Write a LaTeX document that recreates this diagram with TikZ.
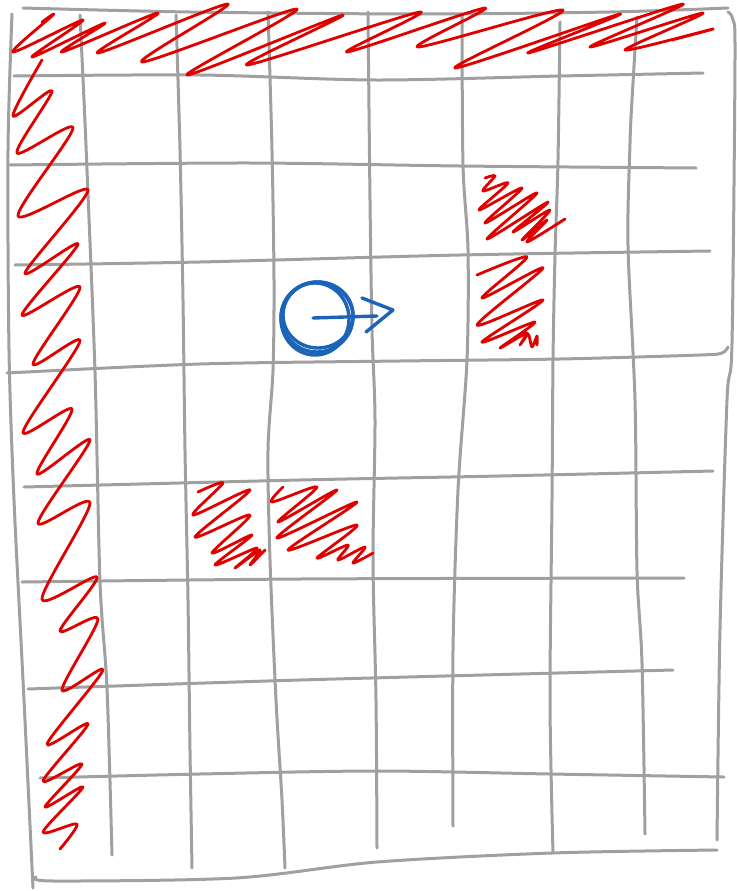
\documentclass[tikz,border=0pt]{standalone}
\definecolor{gridgray}{RGB}{160,160,160}
\definecolor{wallred}{RGB}{224,0,0}
\definecolor{robotblue}{RGB}{28,100,184}
\begin{document}
\begin{tikzpicture}[x=1pt,y=-1pt,
  gridline/.style={draw=gridgray,line width=3pt,line cap=round,line join=round},
  wall/.style={draw=wallred,line width=2.8pt,line cap=round,line join=round},
  robot/.style={draw=robotblue,line width=3.4pt,line cap=round,line join=round}]
\useasboundingbox (0,0) rectangle (736,891);
\draw[gridline] plot[smooth] coordinates {(12,14) (8,150) (9,350) (14,500) (24,700) (33,888)};
\draw[gridline] plot[smooth] coordinates {(80,15) (84,100) (87,170) (95,372) (100,582) (107,688) (112,855)};
\draw[gridline] plot[smooth] coordinates {(176,15) (180,150) (183,300) (185,450) (188,600) (190,750) (192,868)};
\draw[gridline] plot[smooth] coordinates {(268,12) (272,150) (274,280) (273,370) (268,450) (270,560) (276,700) (282,800) (285,868)};
\draw[gridline] plot[smooth] coordinates {(368,12) (370,200) (372,330) (375,420) (373,560) (376,700) (377,848)};
\draw[gridline] plot[smooth] coordinates {(462,15) (463,165) (468,250) (467,360) (458,490) (453,650) (453,826)};
\draw[gridline] plot[smooth] coordinates {(560,22) (558,160) (555,255) (553,360) (552,500) (550,700) (553,853)};
\draw[gridline] plot[smooth] coordinates {(637,17) (632,100) (630,143) (628,246) (635,400) (637,571) (642,663) (645,834)};
\draw[gridline] plot[smooth] coordinates {(728,12) (733,20) (735,57) (732,343) (727,400) (720,629) (717,840)};
\draw[gridline] plot[smooth] coordinates {(23,8) (190,12) (420,14) (610,12) (728,8)};
\draw[gridline] plot[smooth] coordinates {(14,76) (200,75) (376,80) (560,76) (703,73)};
\draw[gridline] plot[smooth] coordinates {(10,165) (250,163) (460,166) (696,168)};
\draw[gridline] plot[smooth] coordinates {(15,265) (200,262) (460,255) (710,251)};
\draw[gridline] plot[smooth] coordinates {(7,373) (200,364) (400,361) (560,359) (700,355) (722,353) (728,347)};
\draw[gridline] plot[smooth] coordinates {(24,487) (300,480) (500,476) (713,471)};
\draw[gridline] plot[smooth] coordinates {(22,582) (300,579) (684,578)};
\draw[gridline] plot[smooth] coordinates {(28,689) (300,680) (673,670)};
\draw[gridline] plot[smooth] coordinates {(40,778) (200,774) (377,771) (550,774) (724,777)};
\draw[gridline] plot[smooth] coordinates {(36,877) (54,881) (236,878) (377,862) (552,853) (717,850)};
\draw[wall] plot[smooth,tension=0.5] coordinates {(42,22) (53,15) (13,52) (83,20) (32,57) (105,23) (62,52) (158,13) (98,53) (228,4) (142,62) (297,9) (187,75) (343,15) (247,65) (420,12) (347,52) (485,8) (418,47) (563,10) (455,68) (620,14) (528,53) (683,4) (590,47) (703,13) (625,50) (713,29) (672,40)};
\draw[wall] plot[smooth,tension=0.5] coordinates {(42,60) (13,116) (52,91) (17,153) (73,128) (18,216) (88,190) (25,273) (78,244) (22,315) (80,287) (33,364) (80,341) (23,432) (72,409) (37,474) (90,440) (38,523) (90,503) (42,599) (97,577) (60,631) (98,619) (62,690) (103,670) (47,744) (88,724) (43,781) (82,764) (45,807) (83,787) (43,832) (77,824) (60,849)};
\draw[wall] plot[smooth,tension=0.5] coordinates {(485,178) (495,176) (483,191) (508,183) (479,210) (522,188) (485,223) (537,193) (487,239) (548,202) (513,232) (550,210) (522,240) (547,220) (527,242) (565,219)};
\draw[wall] plot[smooth,tension=0.5] coordinates {(477,275) (527,257) (482,298) (543,268) (477,325) (543,300) (482,342) (535,322) (500,348) (527,333) (520,345) (528,334) (532,347) (537,336) (537,345)};
\draw[wall] plot[smooth,tension=0.5] coordinates {(198,492) (223,483) (193,515) (250,490) (195,537) (250,515) (212,553) (252,535) (215,565) (257,548) (235,568) (260,550) (250,565) (265,550)};
\draw[wall] plot[smooth,tension=0.5] coordinates {(283,487) (272,502) (317,487) (278,522) (337,490) (277,538) (357,502) (288,550) (357,525) (317,558) (348,545) (338,560) (365,547) (353,563) (373,553)};
\coordinate (robot) at (317,317);
\coordinate (tip) at (393,310);
\draw[robot] (robot) ellipse [x radius=36, y radius=35];
\draw[robot] ([shift={(-2,2)}]robot) ellipse [x radius=34, y radius=36];
\draw[robot] ([shift={(1,-2)}]robot) ellipse [x radius=35, y radius=33];
\draw[robot] ([shift={(-4,1)}]robot) -- (377,316);
\draw[robot] (362,298) -- (tip) -- (366,332);
\end{tikzpicture}
\end{document}
